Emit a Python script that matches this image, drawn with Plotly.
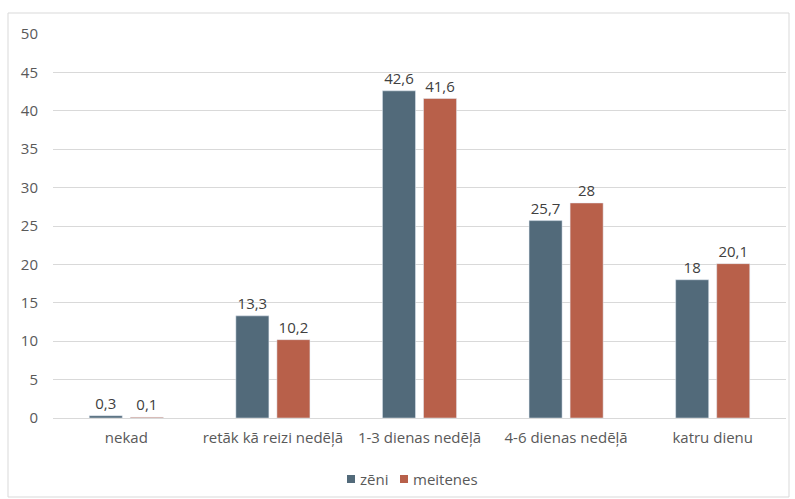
import plotly.graph_objects as go

categories = ["nekad", "retāk kā reizi nedēļā", "1-3 dienas nedēļā", "4-6 dienas nedēļā", "katru dienu"]
series_names = ["zēni", "meitenes"]
zeni = [0.3, 13.3, 42.6, 25.7, 18]
meitenes = [0.1, 10.2, 41.6, 28, 20.1]
zeni_labels = ["0,3", "13,3", "42,6", "25,7", "18"]
meitenes_labels = ["0,1", "10,2", "41,6", "28", "20,1"]
colors = ["#526a7a", "#b8604a"]

FONT = "Open Sans, Liberation Sans, sans-serif"

fig = go.Figure()
for name, vals, labels, col in [(series_names[0], zeni, zeni_labels, colors[0]),
                                (series_names[1], meitenes, meitenes_labels, colors[1])]:
    fig.add_trace(go.Bar(name=name, x=categories, y=vals, marker_color=col,
                         text=labels, textposition="outside", cliponaxis=False,
                         textfont=dict(size=15, color="#404040", family=FONT)))

L, R, T, B = 53, 9, 34, 81
W, H = 795, 499
pw = W - L - R
ph = H - T - B

def px(x):
    return (x - L) / pw

def py(y):
    return (H - B - y) / ph

fig.update_layout(
    width=W, height=H,
    margin=dict(l=L, r=R, t=T, b=B, autoexpand=False),
    plot_bgcolor="white", paper_bgcolor="white",
    barmode="group", bargap=0.44, bargroupgap=0.195,
    font=dict(family=FONT, size=15, color="#595959"),
    showlegend=False,
    xaxis=dict(showgrid=False, showline=True, linecolor="#d9d9d9", linewidth=1,
               ticks="", ticklabelstandoff=6, tickfont=dict(size=15, color="#595959")),
    yaxis=dict(range=[0, 50], dtick=5, showgrid=True, gridcolor="#d9d9d9", gridwidth=1,
               zeroline=False, showline=False, ticks="", ticklabelstandoff=14,
               tickfont=dict(size=15, color="#595959")),
)

fig.add_shape(type="rect", xref="paper", yref="paper",
              x0=px(8), x1=px(789), y0=py(497), y1=py(13),
              line=dict(color="#d9d9d9", width=1), fillcolor="rgba(0,0,0,0)", layer="below")

# legend
legend_x = [347, 400]
for name, col, lx in zip(series_names, colors, legend_x):
    fig.add_shape(type="rect", xref="paper", yref="paper",
                  x0=px(lx), x1=px(lx + 8), y0=py(483), y1=py(475),
                  line=dict(width=0), fillcolor=col)
    fig.add_annotation(xref="paper", yref="paper", x=px(lx + 11), y=py(479),
                       xanchor="left", yanchor="middle", showarrow=False, text=name,
                       font=dict(size=15, color="#595959", family=FONT))

fig.write_html("out.html", config={"displayModeBar": False},
               post_script="document.body.style.margin='0';document.body.style.overflow='hidden';")
